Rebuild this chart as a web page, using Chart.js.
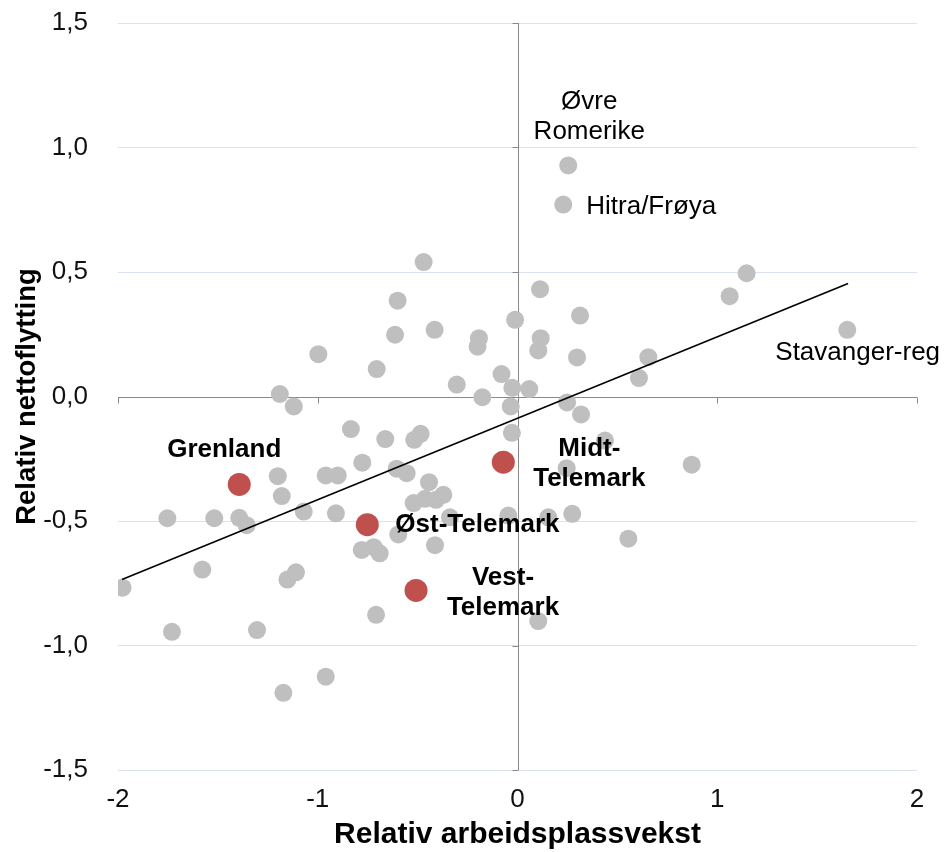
<!DOCTYPE html>
<html>
<head>
<meta charset="utf-8">
<script src="https://cdn.jsdelivr.net/npm/chart.js@4.4.1/dist/chart.umd.min.js"></script>
<style>
  html, body { margin: 0; padding: 0; background: #fff; }
  #wrap { width: 944px; height: 852px; }
</style>
</head>
<body>
<div id="wrap"><canvas id="scatter"></canvas></div>
<script>
// other regions (grey dots)
const regionX = [-1.19, -1.12, -1.20, -1.18, -0.96, -0.90, -1.753, -1.518, -1.393, -1.356,
  -1.07, -1.578, -1.152, -1.109, -1.977, -1.73, -1.304, -1.172, -0.96, -0.909,
  -0.777, -0.834, -0.662, -0.517, -0.485, -0.605, -0.555, -0.443, -0.52, -0.463,
  -0.408, -0.371, -0.338, -0.046, -0.597, -0.78, -0.72, -0.69, -0.413, -0.708,
  0.104, 0.154, 0.274, 0.555, 0.872, 0.246, 0.438, -0.028, -0.034, -0.176,
  -0.026, 0.059, -0.304, -0.08, -0.705, -0.997, -0.2, -0.193, -0.613, -0.415,
  -0.60, -0.47, -0.012, 0.113, 0.313, 0.116, 0.104, 0.298, 0.655, 0.608,
  1.062, 1.147, 0.248, 0.318];
const regionY = [0.01, -0.04, -0.32, -0.40, -0.317, -0.317, -0.489, -0.489, -0.487, -0.517,
  -0.462, -0.695, -0.735, -0.706, -0.768, -0.945, -0.938, -1.19, -1.125, -0.469,
  -0.266, -0.131, -0.171, -0.174, -0.15, -0.29, -0.308, -0.344, -0.428, -0.411,
  -0.415, -0.395, -0.485, -0.478, -0.554, -0.616, -0.605, -0.63, -0.597, -0.877,
  -0.902, -0.485, -0.471, -0.571, -0.274, -0.288, -0.177, -0.146, -0.04, -0.003,
  0.035, 0.03, 0.048, 0.09, 0.11, 0.17, 0.20, 0.234, 0.248, 0.268,
  0.385, 0.54, 0.308, 0.431, 0.325, 0.234, 0.185, 0.157, 0.158, 0.074,
  0.403, 0.495, -0.024, -0.072];

// grey dots with a name next to them
const namedRegions = ['Øvre Romerike', 'Hitra/Frøya', 'Stavanger-reg'];
const namedX = [0.254, 0.229, 1.651];
const namedY = [0.928, 0.771, 0.268];

// Telemark regions (red dots)
const telemarkNames = ['Grenland', 'Midt-Telemark', 'Øst-Telemark', 'Vest-Telemark'];
const telemarkX = [-1.393, -0.071, -0.752, -0.508];
const telemarkY = [-0.353, -0.264, -0.515, -0.779];

// linear trend line, end points
const trendX = [-1.98, 1.655];
const trendY = [-0.735, 0.454];

const xTicks = [-2, -1, 0, 1, 2];
const yTicks = [-1.5, -1, -0.5, 0, 0.5, 1, 1.5];

const FONT = "'Liberation Sans', Arial, sans-serif";
const axisGray = '#898989';

const toPoints = (xs, ys) => xs.map((x, i) => ({ x: x, y: ys[i] }));

// where each data label sits relative to its dot
const labelLayout = {
  'Øvre Romerike': { lines: ['Øvre', 'Romerike'], dx: 21, dy: -65, align: 'center', bold: false },
  'Hitra/Frøya': { lines: ['Hitra/Frøya'], dx: 23, dy: 0, align: 'left', bold: false },
  'Stavanger-reg': { lines: ['Stavanger-reg'], dx: -72, dy: 21, align: 'left', bold: false },
  'Grenland': { lines: ['Grenland'], dx: -15, dy: -36, align: 'center', bold: true },
  'Midt-Telemark': { lines: ['Midt-', 'Telemark'], dx: 86, dy: -15, align: 'center', bold: true },
  'Øst-Telemark': { lines: ['Øst-Telemark'], dx: 28, dy: -2, align: 'left', bold: true },
  'Vest-Telemark': { lines: ['Vest-', 'Telemark'], dx: 87, dy: -14, align: 'center', bold: true }
};

const axisCross = {
  id: 'axisCross',
  beforeDatasetsDraw(chart) {
    const { ctx, chartArea: a, scales: { x, y } } = chart;
    const x0 = Math.round(x.getPixelForValue(0)) + 0.5;
    const y0 = Math.round(y.getPixelForValue(0)) + 0.5;
    ctx.save();
    ctx.strokeStyle = axisGray;
    ctx.lineWidth = 1;
    ctx.beginPath();
    ctx.moveTo(a.left, y0); ctx.lineTo(a.right, y0);
    ctx.moveTo(x0, a.top); ctx.lineTo(x0, a.bottom);
    xTicks.forEach(v => {
      const px = Math.round(x.getPixelForValue(v)) + 0.5;
      ctx.moveTo(px, y0); ctx.lineTo(px, y0 + 6);
    });
    yTicks.forEach(v => {
      const py = Math.round(y.getPixelForValue(v)) + 0.5;
      ctx.moveTo(x0 - 6, py); ctx.lineTo(x0, py);
    });
    ctx.stroke();
    ctx.restore();
  }
};

const dotLabels = {
  id: 'dotLabels',
  afterDatasetsDraw(chart) {
    const ctx = chart.ctx;
    ctx.save();
    ctx.fillStyle = '#000';
    ctx.textBaseline = 'alphabetic';
    chart.data.datasets.forEach((ds, di) => {
      if (!ds.names) return;
      chart.getDatasetMeta(di).data.forEach((pt, i) => {
        const lay = labelLayout[ds.names[i]];
        ctx.font = (lay.bold ? 'bold ' : '') + '26px ' + FONT;
        ctx.textAlign = lay.align;
        lay.lines.forEach((line, k) => {
          ctx.fillText(line, pt.x + lay.dx, pt.y + lay.dy + k * 30 + 9);
        });
      });
    });
    ctx.restore();
  }
};

new Chart(document.getElementById('scatter'), {
  type: 'scatter',
  data: {
    datasets: [
      {
        label: 'Regioner',
        data: toPoints(regionX, regionY),
        backgroundColor: '#BFBFBF',
        borderWidth: 0,
        pointRadius: 9,
        order: 4
      },
      {
        label: 'Navngitte regioner',
        names: namedRegions,
        data: toPoints(namedX, namedY),
        backgroundColor: '#BFBFBF',
        borderWidth: 0,
        pointRadius: 9,
        order: 3
      },
      {
        label: 'Trend',
        data: toPoints(trendX, trendY),
        showLine: true,
        borderColor: '#000',
        borderWidth: 1.6,
        pointRadius: 0,
        order: 2
      },
      {
        label: 'Telemark',
        names: telemarkNames,
        data: toPoints(telemarkX, telemarkY),
        backgroundColor: '#C0504D',
        borderWidth: 0,
        pointRadius: 11.5,
        order: 1
      }
    ]
  },
  options: {
    responsive: true,
    maintainAspectRatio: false,
    devicePixelRatio: 1,
    animation: false,
    layout: { padding: { top: 23, right: 27, bottom: 0, left: 0 } },
    plugins: { legend: { display: false }, tooltip: { enabled: false } },
    scales: {
      x: {
        type: 'linear',
        min: -2, max: 2,
        afterFit: s => { s.height = 82; },
        afterBuildTicks: s => { s.ticks = xTicks.map(v => ({ value: v })); },
        grid: { display: false, drawTicks: false },
        border: { display: false },
        ticks: {
          padding: 14,
          color: '#111',
          font: { family: FONT, size: 26 },
          callback: v => String(v)
        },
        title: {
          display: true,
          text: 'Relativ arbeidsplassvekst',
          color: '#000',
          padding: { top: 0, bottom: -1 },
          font: { family: FONT, size: 30, weight: 'bold' }
        }
      },
      y: {
        type: 'linear',
        min: -1.5, max: 1.5,
        afterFit: s => { s.width = 118; s.paddingTop = 0; s.paddingBottom = 0; },
        afterBuildTicks: s => { s.ticks = yTicks.map(v => ({ value: v })); },
        grid: {
          drawTicks: false,
          lineWidth: 1,
          color: c => (c.tick && c.tick.value === 0) ? 'rgba(0,0,0,0)' : '#D9E1F2'
        },
        border: { display: false },
        ticks: {
          padding: 30,
          color: '#111',
          font: { family: FONT, size: 26 },
          callback: v => v.toFixed(1).replace('.', ',')
        },
        title: {
          display: true,
          text: 'Relativ nettoflytting',
          color: '#000',
          padding: { top: 11, bottom: 0 },
          font: { family: FONT, size: 27.5, weight: 'bold' }
        }
      }
    }
  },
  plugins: [axisCross, dotLabels]
});
</script>
</body>
</html>
